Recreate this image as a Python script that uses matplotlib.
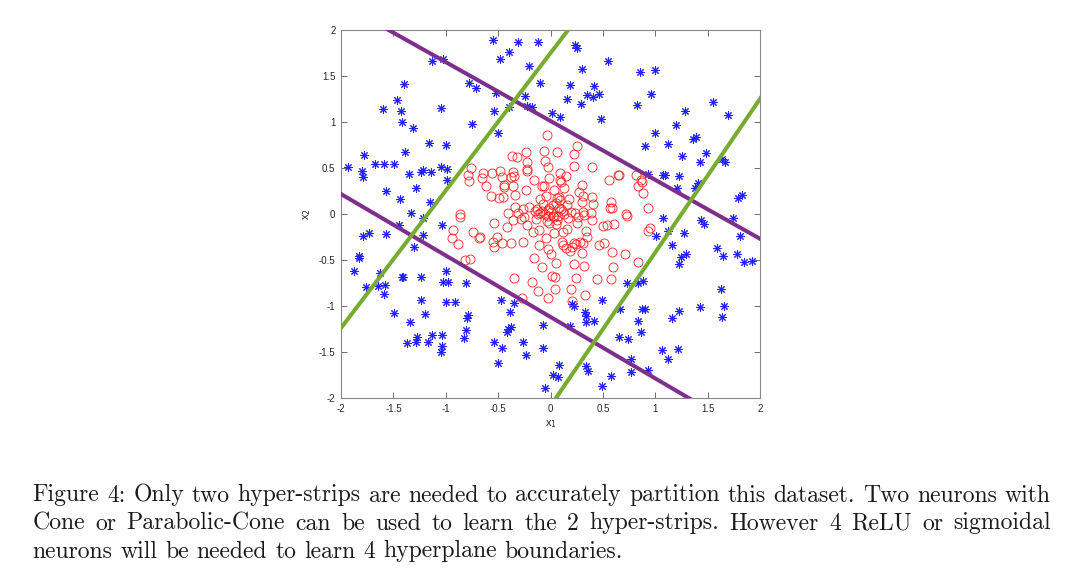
import numpy as np
import matplotlib
matplotlib.use("Agg")
import matplotlib.pyplot as plt

# class 1 (blue asterisks)
blue_x = [-1.13, -1.03, -1.40, -1.47, -1.60, -1.43, -1.05, -1.42, -1.31, -0.78, -0.71, -0.75,
          -1.78, -1.39, -1.16, -1.00, -1.93, -1.80, -1.79, -1.68, -1.59, -1.49, -1.35, -1.24,
          -1.22, -1.14, -1.05, -0.99, -0.99, -1.57, -1.28, -1.44, -1.15, -1.33,
          -1.22, -1.45, -1.04, -1.79, -1.73, -1.57, -1.22, -1.30, -1.83, -1.83, -1.88, -1.63,
          -1.76, -1.65, -1.58, -1.59, -1.42, -1.41, -1.24, -1.00, -1.03, -0.98, -0.81, -1.24,
          -1.00, -0.91, -1.49, -1.20, -0.79, -0.80, -1.34, -0.81, -1.27, -1.13, -1.04, -0.83,
          -1.37, -1.28, -1.17, -1.04, -1.05,
          -0.55, -0.31, -0.12, -0.40, -0.48, -0.21, 0.23, 0.25, 0.55, 0.30, -0.10, 0.19, 0.42,
          -0.52, -0.24, 0.16, 0.35, 0.41, 0.46, 0.29, -0.22, -0.18, -0.40, -0.54, 0.01, 0.09,
          0.48, -0.50,
          0.85, 1.00, 0.96, 0.83, 1.28, 1.55, 1.69, 1.20, 1.00, 1.12, 1.36, 1.39, 0.90, 1.48,
          1.26, 1.43, 1.64, 1.67, 0.93, 1.07, 1.09, 1.23, 1.41, 1.21, 1.38, 1.79, 1.83,
          -0.47, -0.35, -0.39, -0.38, -0.41, -0.42, -0.07, -0.54, -0.26, -0.46, -0.07, -0.23,
          -0.50, 0.21, 0.22, 0.49, 0.33, 0.34, 0.42, 0.34, 0.19, 0.65, 0.08, 0.02, 0.07, 0.34,
          0.36, 0.58, 0.49, -0.05,
          1.07, 1.12, 1.01, 1.27, 1.16, 1.44, 1.47, 1.74, 1.81, 1.59, 1.65, 1.78, 1.85, 1.92,
          1.29, 1.25, 1.23, 0.73, 0.84, 0.88, 0.66, 0.87, 0.90, 0.84, 0.86, 0.74, 1.23, 1.16,
          1.43, 1.63, 1.66, 1.64, 1.06, 1.12, 1.22, 0.77, 0.77, 0.93]
blue_y = [1.66, 1.68, 1.41, 1.24, 1.14, 1.12, 1.15, 1.00, 0.94, 1.42, 1.37, 0.98,
          0.64, 0.67, 0.77, 0.75, 0.51, 0.47, 0.40, 0.54, 0.54, 0.54, 0.43, 0.46,
          0.48, 0.46, 0.51, 0.49, 0.37, 0.25, 0.28, 0.16, 0.13, 0.01,
          -0.04, -0.12, -0.12, -0.24, -0.21, -0.22, -0.23, -0.36, -0.46, -0.48, -0.62, -0.64,
          -0.79, -0.78, -0.77, -0.87, -0.68, -0.69, -0.69, -0.62, -0.74, -0.74, -0.75, -0.94,
          -0.96, -0.96, -1.08, -1.09, -1.10, -1.13, -1.17, -1.26, -1.34, -1.32, -1.32, -1.35,
          -1.40, -1.39, -1.39, -1.44, -1.50,
          1.89, 1.87, 1.87, 1.76, 1.69, 1.61, 1.84, 1.80, 1.66, 1.58, 1.42, 1.40, 1.39,
          1.31, 1.28, 1.25, 1.29, 1.27, 1.30, 1.20, 1.17, 1.16, 1.16, 1.12, 1.10, 1.05,
          1.03, 0.88,
          1.54, 1.57, 1.30, 1.18, 1.12, 1.22, 1.08, 0.97, 0.88, 0.76, 0.82, 0.84, 0.74, 0.66,
          0.63, 0.57, 0.60, 0.57, 0.43, 0.42, 0.42, 0.41, 0.34, 0.28, 0.28, 0.17, 0.21,
          -0.94, -0.97, -1.06, -1.23, -1.25, -1.28, -1.21, -1.39, -1.39, -1.46, -1.46, -1.53,
          -1.62, -0.98, -1.00, -0.93, -1.07, -1.11, -1.16, -1.17, -1.22, -1.34, -1.64, -1.75,
          -1.77, -1.65, -1.71, -1.76, -1.87, -1.89,
          -0.04, -0.19, -0.24, -0.21, -0.34, -0.07, -0.11, -0.04, -0.24, -0.37, -0.46, -0.43,
          -0.52, -0.51, -0.44, -0.47, -0.54, -0.75, -0.75, -0.73, -1.03, -1.03, -1.03, -1.16,
          -1.28, -1.36, -1.05, -1.13, -1.01, -0.81, -1.00, -1.12, -1.48, -1.58, -1.47, -1.58,
          -1.72, -1.70]

# class 2 (red circles)
red_x = [-0.76, -0.79, -0.78, -0.86, -0.86, -0.93, -0.94, -0.88, -0.74, -0.82, -0.77, -0.68,
         0.65, 0.82, 0.86, 0.87, 0.84, 0.88, 0.93, 0.72, 0.73, 0.95, 0.93, 0.71, 0.84,
         -0.03, 0.25, 0.06, -0.06, -0.23, -0.37, -0.32, 0.22, -0.22, -0.05, -0.22, -0.22,
         -0.02, 0.22, 0.40, -0.64, -0.56, -0.48, -0.36, -0.65, -0.46, -0.38, -0.35, -0.16,
         0.09, 0.15, -0.01, 0.09, 0.10, -0.62, -0.44, -0.44, -0.36, -0.08, -0.06, 0.30, 0.56,
         0.64, -0.23, 0.03, 0.13, 0.27, -0.57, -0.45, -0.49, -0.34, -0.04, 0.08, 0.40, 0.31,
         0.30, 0.41, 0.58, 0.59, 0.57, -0.10, -0.07, 0.06, 0.09, 0.05, 0.02, 0.18, -0.26,
         -0.21, -0.34, 0.16, 0.12, -0.01, -0.02, 0.08, -0.13, -0.15, -0.10, -0.41, -0.31,
         0.23, 0.31, 0.39,
         -0.67, -0.54, -0.55, -0.54, -0.51, -0.46, -0.38, -0.42, -0.36, -0.28, -0.25, -0.22,
         -0.26, -0.17, -0.11, -0.11, -0.04, -0.02, 0.02, 0.07, 0.05, -0.01, 0.03, 0.11, 0.12,
         0.12, 0.16, 0.17, 0.26, 0.25, 0.22, 0.24, 0.21, 0.19, 0.15, 0.30, 0.34, 0.35, 0.28,
         0.31, 0.40, 0.32, 0.46, 0.51, 0.50, 0.54, 0.61, 0.59, 0.60, 0.58, 0.44, 0.32, 0.22,
         0.24, 0.20, 0.33, 0.21, 0.05, 0.00, -0.16, -0.08, 0.01, 0.04, 0.04, -0.02, -0.12,
         -0.18, -0.35, -0.27, -0.02, -0.12,
         -0.05, 0.00, 0.03, 0.10, -0.08, 0.20, 0.06, -0.03, 0.13, -0.14]
red_y = [0.50, 0.42, 0.36, 0.00, -0.03, -0.17, -0.26, -0.33, -0.20, -0.50, -0.49, -0.26,
         0.42, 0.42, 0.37, 0.35, 0.30, 0.23, 0.06, 0.00, -0.02, -0.15, -0.18, -0.44, -0.52,
         0.86, 0.74, 0.67, 0.68, 0.67, 0.63, 0.62, 0.65, 0.56, 0.58, 0.49, 0.47,
         0.51, 0.52, 0.51, 0.45, 0.45, 0.47, 0.46, 0.39, 0.40, 0.40, 0.41, 0.37,
         0.45, 0.41, 0.39, 0.37, 0.35, 0.30, 0.31, 0.29, 0.30, 0.30, 0.30, 0.32, 0.37,
         0.42, 0.26, 0.26, 0.28, 0.24, 0.20, 0.18, 0.17, 0.21, 0.20, 0.19, 0.18, 0.20,
         0.13, 0.11, 0.13, 0.07, 0.06, 0.16, 0.11, 0.17, 0.15, 0.12, 0.10, 0.16, 0.05,
         0.08, 0.08, 0.10, 0.03, 0.07, 0.04, 0.06, 0.05, 0.03, 0.01, 0.01, 0.01,
         0.01, 0.02, 0.01,
         -0.25, -0.10, -0.30, -0.36, -0.25, -0.32, -0.32, -0.14, -0.06, -0.05, -0.03, -0.12,
         -0.30, -0.20, -0.17, -0.34, -0.26, -0.02, -0.02, -0.02, -0.11, -0.10, -0.21, -0.30,
         -0.34, -0.20, -0.16, -0.04, -0.03, -0.10, -0.31, -0.33, -0.36, -0.40, -0.37, -0.42,
         -0.19, -0.25, -0.30, -0.32, -0.06, -0.01, -0.34, -0.31, -0.13, -0.12, -0.11, -0.41,
         -0.58, -0.71, -0.71, -0.57, -0.54, -0.70, -0.81, -0.88, -0.95, -0.53, -0.44, -0.48,
         -0.58, -0.67, -0.69, -0.82, -0.91, -0.84, -0.74, -0.70, -0.91, -0.38, 0.00,
         0.00, 0.02, -0.03, 0.05, 0.03, 0.02, -0.06, -0.08, 0.00, -0.05]

# hyper-strip boundaries as y = slope * x + intercept
purple_slope = [-0.640, -0.668]
purple_icpt = [1.011, -1.119]
green_slope = [1.494, 1.669]
green_icpt = [1.749, -2.087]

caption = ["Figure 4: Only two hyper-strips are needed to accurately partition this dataset. Two neurons with",
           "Cone or Parabolic-Cone can be used to learn the 2 hyper-strips.  However 4 ReLU or sigmoidal",
           "neurons will be needed to learn 4 hyperplane boundaries."]

W, H = 1080, 586
fig = plt.figure(figsize=(W / 100, H / 100), dpi=100)
ax = fig.add_axes([341 / W, 1 - 398 / H, 419 / W, 368 / H])

ax.plot(blue_x, blue_y, linestyle="none", marker=(8, 2, 0), ms=6, mew=0.75,
        color="#2222ff", zorder=2)
ax.plot(red_x, red_y, linestyle="none", marker="o", ms=6.5, mew=0.6,
        mfc="none", mec="#ff2020", zorder=2)

xs = np.array([-2.5, 2.5])
for s, b in zip(purple_slope, purple_icpt):
    ax.plot(xs, s * xs + b, color="#7e2f8e", lw=2.9, zorder=3)
for s, b in zip(green_slope, green_icpt):
    ax.plot(xs, s * xs + b, color="#77ac30", lw=2.9, zorder=3)

ticks = np.arange(-2, 2.01, 0.5)
labels = ["%g" % t for t in ticks]
ax.set_xlim(-2, 2)
ax.set_ylim(-2, 2)
ax.set_xticks(ticks, labels)
ax.set_yticks(ticks, labels)
ax.tick_params(direction="in", length=4, width=0.6, colors="#555555", labelsize=7,
               top=True, right=True, pad=4)
for lab in ax.get_xticklabels() + ax.get_yticklabels():
    lab.set_color("#262626")
    lab.set_family("Liberation Sans")
for sp in ax.spines.values():
    sp.set_color("#888888")
    sp.set_linewidth(0.8)
ax.set_xlabel(r"x$_1$", fontsize=8, color="#262626", family="Liberation Sans", labelpad=3)
ax.set_ylabel(r"x$_2$", fontsize=8, color="#262626", family="Liberation Sans", labelpad=4)

# justified caption in a TeX-like serif
left, right = 32.5, 1051
baselines = [501.5, 529.5, 557.5]
fsize = 17.1
renderer = fig.canvas.get_renderer()
for i, (line, yb) in enumerate(zip(caption, baselines)):
    words = line.split()
    texts = [fig.text(0, 1 - yb / H, w, family="cmr10", fontsize=fsize,
                      va="baseline", ha="left", color="#1a1a1a") for w in words]
    widths = [t.get_window_extent(renderer).width for t in texts]
    if i < len(caption) - 1:
        gap = (right - left - sum(widths)) / (len(words) - 1)
    else:
        gap = fsize * 100 / 72 * 0.333
    x = left
    for t, w in zip(texts, widths):
        t.set_x(x / W)
        x += w + gap

fig.savefig("out.png", dpi=100)
